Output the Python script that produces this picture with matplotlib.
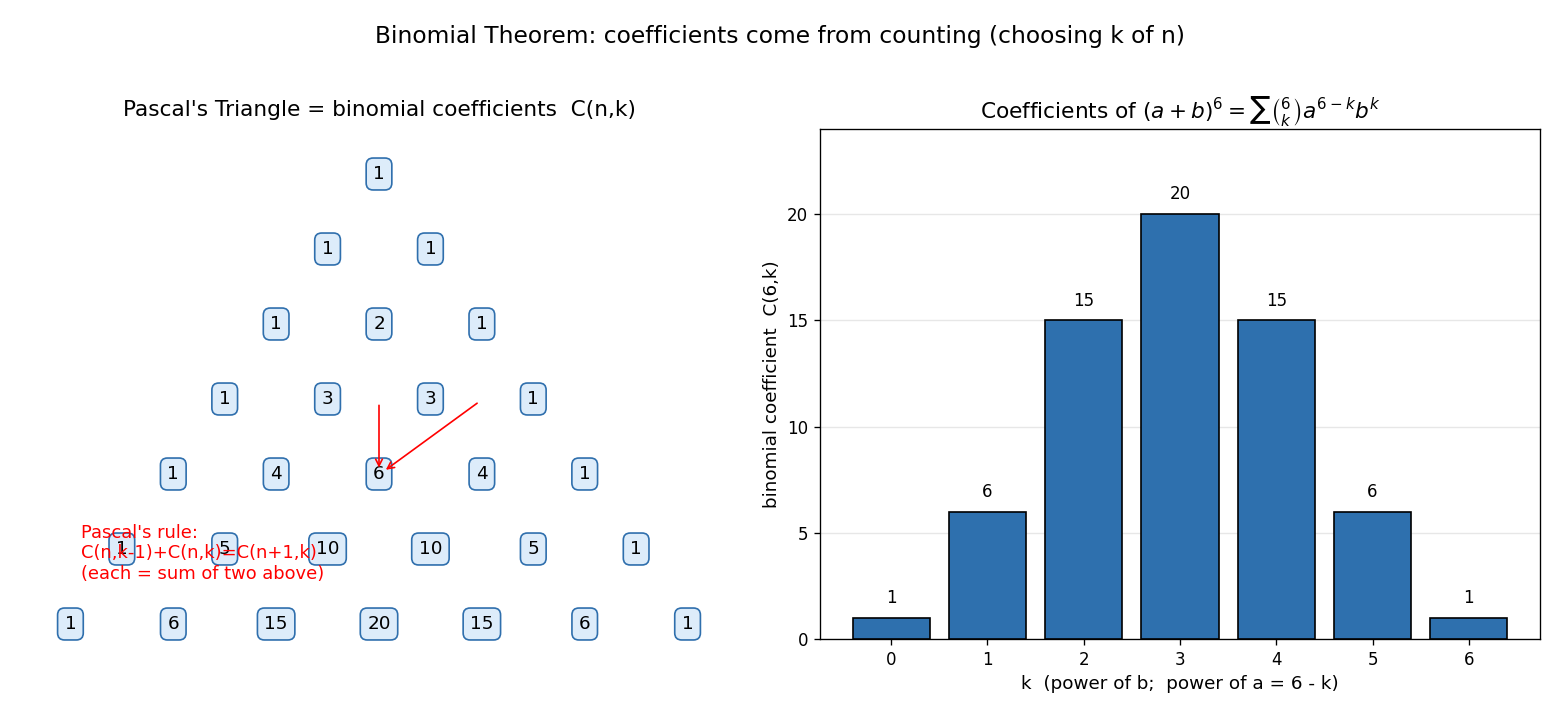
import matplotlib
matplotlib.use("Agg")
import matplotlib.pyplot as plt
from math import comb

n_rows = 7
k_vals = [0, 1, 2, 3, 4, 5, 6]
coeffs = [1, 6, 15, 20, 15, 6, 1]
rule_text = "Pascal's rule:\nC(n,k-1)+C(n,k)=C(n+1,k)\n(each = sum of two above)"

fig = plt.figure(figsize=(13, 715/120), dpi=120)
fig.suptitle("Binomial Theorem: coefficients come from counting (choosing k of n)", fontsize=14, y=0.965)

axL = fig.add_axes([19/1560, 76/715, 720/1560, 510/715])
axR = fig.add_axes([820/1560, 76/715, 720/1560, 510/715])

# Pascal's triangle
for n in range(n_rows):
    for k in range(n + 1):
        x = k - n / 2
        y = -n
        axL.text(x, y, str(comb(n, k)), ha="center", va="center", fontsize=11,
                 bbox=dict(boxstyle="round,pad=0.38", facecolor="#ddecfa", edgecolor="#2f6fad", lw=1.0))
axL.set_xlim(-3.5, 3.5)
axL.set_ylim(-6.2, 0.6)
axL.axis("off")
axL.set_title("Pascal's Triangle = binomial coefficients  C(n,k)", fontsize=13, pad=8)

axL.annotate("", xy=(0, -3.96), xytext=(0, -3.04),
             arrowprops=dict(arrowstyle="->", color="red", lw=1.0))
axL.annotate("", xy=(0.04, -3.97), xytext=(0.98, -3.03),
             arrowprops=dict(arrowstyle="->", color="red", lw=1.0))
axL.text(-2.9, -5.06, rule_text, color="red", fontsize=10.7, ha="left", va="center", linespacing=1.2)

# bar chart
bars = axR.bar(k_vals, coeffs, color="#2e70ae", edgecolor="black", width=0.8, zorder=3)
for kk, c in zip(k_vals, coeffs):
    axR.text(kk, c + 0.5, str(c), ha="center", va="bottom", fontsize=10)
axR.set_ylim(0, 24)
axR.set_xticks(k_vals)
axR.set_yticks([0, 5, 10, 15, 20])
axR.tick_params(labelsize=10)
axR.grid(axis="y", alpha=0.3, zorder=0)
axR.set_xlabel("k  (power of b;  power of a = 6 - k)", fontsize=11)
axR.set_ylabel("binomial coefficient  C(6,k)", fontsize=11)
axR.set_title(r"Coefficients of $(a+b)^6=\sum\binom{6}{k}a^{6-k}b^k$", fontsize=13)

fig.savefig("out.png", dpi=120)
